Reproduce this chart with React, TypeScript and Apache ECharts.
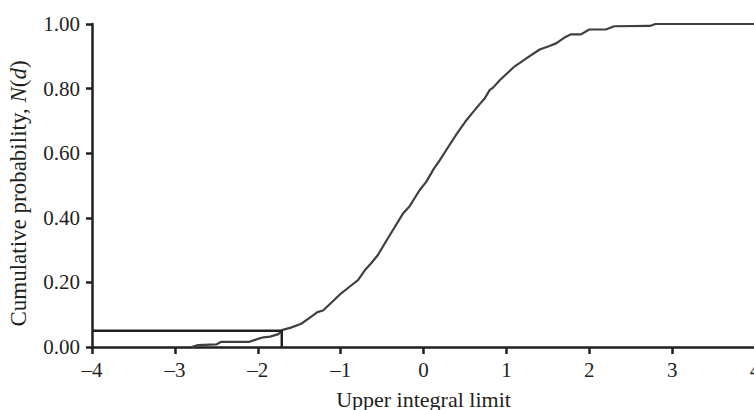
import React, { useEffect, useRef } from "react";
import * as echarts from "echarts";

// Upper integral limit (d) and cumulative probability N(d)
const limitValues = [
  -2.8, -2.72, -2.5, -2.44, -2.1, -2.0, -1.93, -1.85, -1.75, -1.7, -1.6, -1.475,
  -1.354, -1.28, -1.213, -1.1, -1.012, -0.9, -0.79, -0.7, -0.629, -0.55, -0.448,
  -0.35, -0.248, -0.167, -0.046, 0.035, 0.12, 0.195, 0.3, 0.397, 0.52, 0.6, 0.678,
  0.74, 0.8, 0.84, 0.92, 1.0, 1.101, 1.25, 1.402, 1.52, 1.6, 1.7, 1.78, 1.9, 2.0,
  2.2, 2.3, 2.73, 2.8, 4.0,
];
const cumulativeProb = [
  0.0, 0.006, 0.008, 0.016, 0.016, 0.025, 0.03, 0.032, 0.04, 0.053, 0.06, 0.072,
  0.094, 0.108, 0.113, 0.14, 0.162, 0.185, 0.207, 0.24, 0.26, 0.285, 0.329, 0.37,
  0.413, 0.436, 0.486, 0.512, 0.55, 0.578, 0.62, 0.658, 0.703, 0.728, 0.752, 0.77,
  0.796, 0.803, 0.826, 0.845, 0.869, 0.895, 0.921, 0.932, 0.94, 0.958, 0.968, 0.968,
  0.983, 0.983, 0.993, 0.994, 1.0, 1.0,
];
// 5% marker: horizontal from left edge to the critical value, then down to zero
const markerX = [-4, -1.71, -1.71];
const markerY = [0.05, 0.05, 0];

const xTicks = [-4, -3, -2, -1, 0, 1, 2, 3, 4];
const yTicks = [0, 0.2, 0.4, 0.6, 0.8, 1.0];

const FONT = "'Liberation Serif', 'DejaVu Serif', serif";
const AXIS = "#231f20";

export default function App() {
  const ref = useRef<HTMLDivElement>(null);
  useEffect(() => {
    if (!ref.current) return;
    const chart = echarts.init(ref.current, undefined, { renderer: "svg" });
    const curve = limitValues.map((x, i) => [x, cumulativeProb[i]]);
    const marker = markerX.map((x, i) => [x, markerY[i]]);
    chart.setOption({
      animation: false,
      backgroundColor: "#ffffff",
      grid: {
        left: 92,
        top: 24,
        width: 663,
        height: 323,
        containLabel: false,
        outerBoundsMode: "none",
      },
      xAxis: {
        type: "value",
        min: xTicks[0],
        max: xTicks[xTicks.length - 1],
        interval: 1,
        name: "Upper integral limit",
        nameLocation: "middle",
        nameGap: 41,
        nameTextStyle: { fontFamily: FONT, fontSize: 22, color: AXIS },
        axisLine: { show: true, onZero: false, lineStyle: { color: AXIS, width: 2.5 } },
        axisTick: { show: true, length: 7, lineStyle: { color: AXIS, width: 2.5 } },
        axisLabel: {
          fontFamily: FONT,
          fontSize: 21,
          color: AXIS,
          margin: 12,
          formatter: (v: number) => String(v).replace("-", "\u2013"),
        },
        splitLine: { show: false },
      },
      yAxis: {
        type: "value",
        min: yTicks[0],
        max: yTicks[yTicks.length - 1],
        interval: 0.2,
        name: "{r|Cumulative probability, }{i|N}{r|(}{i|d}{r|)}",
        nameLocation: "middle",
        nameRotate: 90,
        nameGap: 62,
        nameTextStyle: {
          fontFamily: FONT,
          fontSize: 23,
          color: AXIS,
          padding: [0, 16, 0, 0],
          rich: {
            r: { fontFamily: FONT, fontSize: 23, color: AXIS },
            i: { fontFamily: FONT, fontSize: 23, color: AXIS, fontStyle: "italic" },
          },
        },
        axisLine: { show: true, onZero: false, lineStyle: { color: AXIS, width: 2.5 } },
        axisTick: { show: true, length: 6, lineStyle: { color: AXIS, width: 2.5 } },
        axisLabel: {
          fontFamily: FONT,
          fontSize: 21,
          color: AXIS,
          margin: 12,
          formatter: (v: number) => v.toFixed(2),
        },
        splitLine: { show: false },
      },
      series: [
        {
          type: "line",
          data: curve,
          showSymbol: false,
          symbol: "none",
          lineStyle: { color: "#3f3f3f", width: 2.2 },
          z: 2,
        },
        {
          type: "line",
          data: marker,
          showSymbol: false,
          symbol: "none",
          lineStyle: { color: AXIS, width: 2.5 },
          z: 3,
        },
      ],
    });
    return () => chart.dispose();
  }, []);
  return (
    <div
      ref={ref}
      style={{ position: "fixed", left: 0, top: 0, width: 754, height: 410, background: "#fff" }}
    />
  );
}
